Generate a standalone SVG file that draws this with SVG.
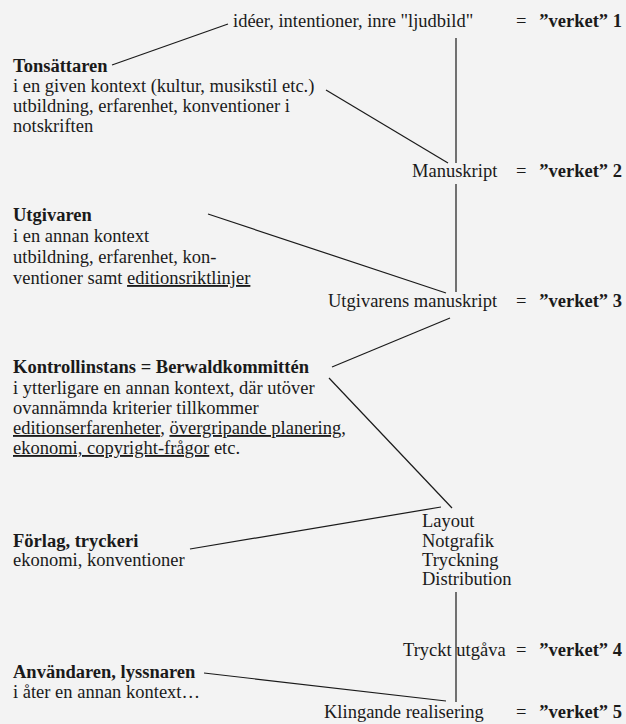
<svg xmlns="http://www.w3.org/2000/svg" width="626" height="724" viewBox="0 0 626 724">
  <style>
    text { font-family: "Liberation Serif", "Times New Roman", serif; font-size: 18.5px; fill: #1a1a1a; }
    .b { font-weight: bold; }
    .u { text-decoration: underline; }
    .end { text-anchor: end; }
    #connectors line { stroke: #1a1a1a; stroke-width: 1.2; fill: none; }
  </style>
  <rect width="626" height="724" fill="#f3f3f3"/>

  <g id="connectors">
    <line x1="112" y1="65" x2="228" y2="24"/>
    <line x1="326" y1="90" x2="448" y2="163"/>
    <line x1="456" y1="38" x2="456" y2="163"/>
    <line x1="208" y1="214" x2="446" y2="293"/>
    <line x1="456" y1="184" x2="456" y2="292"/>
    <line x1="450" y1="318" x2="332" y2="367"/>
    <line x1="329" y1="378" x2="452" y2="508"/>
    <line x1="190" y1="549" x2="441" y2="507"/>
    <line x1="456" y1="592" x2="456" y2="702"/>
    <line x1="204" y1="673" x2="446" y2="701"/>
  </g>

  <g id="verket1">
    <text x="233" y="27">idéer, intentioner, inre "ljudbild"</text>
    <text x="516" y="27">=</text>
    <text x="622" y="27" class="end b">”verket” 1</text>
  </g>

  <g id="tonsattaren">
    <text x="13" y="72" class="b">Tonsättaren</text>
    <text x="13" y="92">i en given kontext (kultur, musikstil etc.)</text>
    <text x="13" y="112">utbildning, erfarenhet, konventioner i</text>
    <text x="13" y="132">notskriften</text>
  </g>

  <g id="verket2">
    <text x="412" y="177">Manuskript</text>
    <text x="516" y="177">=</text>
    <text x="622" y="177" class="end b">”verket” 2</text>
  </g>

  <g id="utgivaren">
    <text x="13" y="221" class="b">Utgivaren</text>
    <text x="13" y="242">i en annan kontext</text>
    <text x="13" y="263">utbildning, erfarenhet, kon-</text>
    <text x="13" y="284">ventioner samt <tspan class="u">editionsriktlinjer</tspan></text>
  </g>

  <g id="verket3">
    <text x="328" y="307">Utgivarens manuskript</text>
    <text x="516" y="307">=</text>
    <text x="622" y="307" class="end b">”verket” 3</text>
  </g>

  <g id="kontrollinstans">
    <text x="13" y="373" class="b">Kontrollinstans = Berwaldkommittén</text>
    <text x="13" y="394">i ytterligare en annan kontext, där utöver</text>
    <text x="13" y="414">ovannämnda kriterier tillkommer</text>
    <text x="13" y="434"><tspan class="u">editionserfarenheter</tspan>, <tspan class="u">övergripande planering</tspan>,</text>
    <text x="13" y="454"><tspan class="u">ekonomi, copyright-frågor</tspan> etc.</text>
  </g>

  <g id="produktion">
    <text x="422" y="527">Layout</text>
    <text x="422" y="547">Notgrafik</text>
    <text x="422" y="566">Tryckning</text>
    <text x="422" y="585">Distribution</text>
  </g>

  <g id="forlag">
    <text x="13" y="547" class="b">Förlag, tryckeri</text>
    <text x="13" y="566">ekonomi, konventioner</text>
  </g>

  <g id="verket4">
    <text x="403" y="656">Tryckt utgåva</text>
    <text x="516" y="656">=</text>
    <text x="622" y="656" class="end b">”verket” 4</text>
  </g>

  <g id="anvandaren">
    <text x="13" y="678" class="b">Användaren, lyssnaren</text>
    <text x="13" y="698">i åter en annan kontext…</text>
  </g>

  <g id="verket5">
    <text x="324" y="718">Klingande realisering</text>
    <text x="516" y="718">=</text>
    <text x="622" y="718" class="end b">”verket” 5</text>
  </g>
</svg>
